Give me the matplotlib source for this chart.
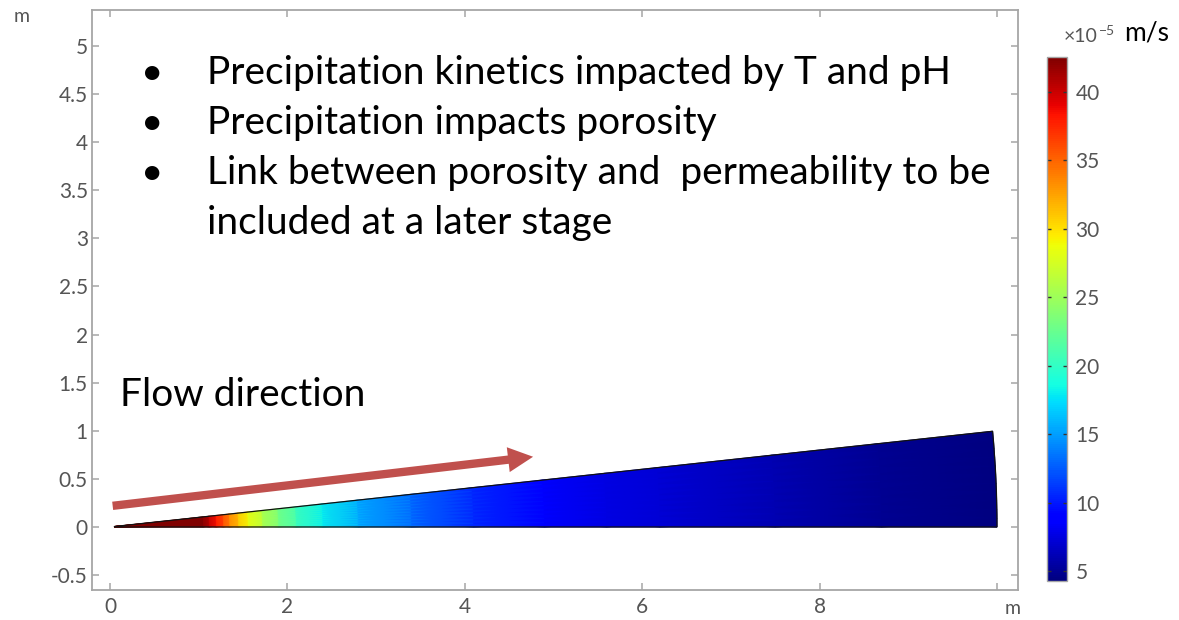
import numpy as np
import matplotlib
matplotlib.use("Agg")
import matplotlib.pyplot as plt
from matplotlib.patches import Wedge, FancyArrowPatch

# ---------------- data ----------------
radius = [0.05, 1.05, 1.12, 1.2, 1.28, 1.35, 1.45, 1.56, 1.72, 1.9, 2.1, 2.4, 2.8,
          3.4, 4.1, 4.9, 5.6, 6.2, 7.5, 8.7, 10.0]
velocity = [42.6, 42.6, 40.6, 38.3, 36.0, 33.8, 31.2, 28.8, 26.0, 23.4, 20.8, 18.1, 15.6,
            13.1, 10.6, 8.5, 7.7, 7.2, 6.0, 5.0, 4.3]  # x1e-5 m/s
wedge_angle_deg = 5.71
vmin, vmax = 4.27, 42.56

xticks = [0, 2, 4, 6, 8, 10]
xticklabels = ["0", "2", "4", "6", "8", ""]
yticks = [-0.5, 0, 0.5, 1, 1.5, 2, 2.5, 3, 3.5, 4, 4.5, 5]
yticklabels = ["-0.5", "0", "0.5", "1", "1.5", "2", "2.5", "3", "3.5", "4", "4.5", "5"]
cbar_ticks = [5, 10, 15, 20, 25, 30, 35, 40]

bullets = [
    "Precipitation kinetics impacted by T and pH",
    "Precipitation impacts porosity",
    "Link between porosity and  permeability to be",
]
bullet_cont = "included at a later stage"
flow_label = "Flow direction"
arrow_start = (0.03, 0.22)
arrow_end = (4.77, 0.73)

# ---------------- style ----------------
FONT = ["Lato", "DejaVu Sans"]
plt.rcParams["font.family"] = FONT
GRAY_TXT = "#555555"
GRAY_SP = "#a6a6a6"

W, H = 1179, 620
fig = plt.figure(figsize=(W / 100, H / 100), dpi=100)

def fx(px):
    return px / W

def fy(py):
    return 1 - py / H

ax = fig.add_axes([fx(92), fy(590), fx(1018) - fx(92), fy(10) - fy(590)])
ax.set_xlim(-0.203, 10.237)
ax.set_ylim(-0.655, 5.374)

# field on the sector
r = np.array(radius)
v = np.array(velocity)
th = np.deg2rad(np.linspace(0, wedge_angle_deg, 12))
R, TH = np.meshgrid(r, th, indexing="ij")
X = R * np.cos(TH)
Y = R * np.sin(TH)
C = np.repeat(v[:, None], len(th), axis=1)
mesh = ax.pcolormesh(X, Y, C, cmap="jet", vmin=vmin, vmax=vmax, shading="gouraud", zorder=2)

outline = Wedge((0, 0), r[-1], 0, wedge_angle_deg, width=r[-1] - r[0],
                facecolor="none", edgecolor="#111111", lw=0.9, zorder=3)
ax.add_patch(outline)

# arrow
arr = FancyArrowPatch(arrow_start, arrow_end,
                      arrowstyle="simple,head_length=1.8,head_width=1.8,tail_width=0.6",
                      mutation_scale=10, color="#c0504d", lw=0, zorder=4,
                      shrinkA=0, shrinkB=0)
ax.add_patch(arr)

# axes styling
for s in ax.spines.values():
    s.set_color(GRAY_SP)
    s.set_linewidth(1.3)
ax.set_xticks(xticks)
ax.set_xticklabels(xticklabels)
ax.set_yticks(yticks)
ax.set_yticklabels(yticklabels)
ax.tick_params(direction="in", length=5, width=1.1, color=GRAY_SP,
               labelcolor=GRAY_TXT, labelsize=15, top=True, right=True,
               pad=3)
ax.tick_params(axis="x", pad=5)

# unit labels
fig.text(fx(14), fy(17), "m", color=GRAY_TXT, fontsize=14, ha="left", va="center")
fig.text(fx(1013), fy(609), "m", color=GRAY_TXT, fontsize=14, ha="center", va="center")

# annotation texts (data coords from pixel layout)
def dx(px):
    return (px - 110) / 88.8

def dy(py):
    return (527 - py) / 96.2

TS = 28
base = [84, 134, 184]
for txt, b in zip(bullets, base):
    ax.text(dx(152), dy(b), "•", fontsize=TS, color="black", ha="center", va="baseline", zorder=5)
    ax.text(dx(207), dy(b), txt, fontsize=TS, color="black", ha="left", va="baseline", zorder=5)
ax.text(dx(207), dy(234), bullet_cont, fontsize=TS, color="black", ha="left", va="baseline", zorder=5)
ax.text(dx(120), dy(406), flow_label, fontsize=TS, color="black", ha="left", va="baseline", zorder=5)

# colorbar
cax = fig.add_axes([fx(1047), fy(581), fx(1067) - fx(1047), fy(57) - fy(581)])
cb = fig.colorbar(mesh, cax=cax, ticks=cbar_ticks)
cb.outline.set_edgecolor(GRAY_SP)
cb.outline.set_linewidth(1.0)
cax.tick_params(direction="in", length=3, width=1.0, color="#333333",
                labelcolor=GRAY_TXT, labelsize=15, left=True, right=True, pad=6)
cax.set_yticklabels([str(t) for t in cbar_ticks])

fig.text(fx(1064), fy(37), "×10", color=GRAY_TXT, fontsize=14, ha="left", va="center")
fig.text(fx(1099), fy(31), "−5", color=GRAY_TXT, fontsize=10, ha="left", va="center",
         family=FONT)
fig.text(fx(1124), fy(33), "m/s", color="black", fontsize=19, ha="left", va="center")

fig.savefig("out.png", dpi=100)
